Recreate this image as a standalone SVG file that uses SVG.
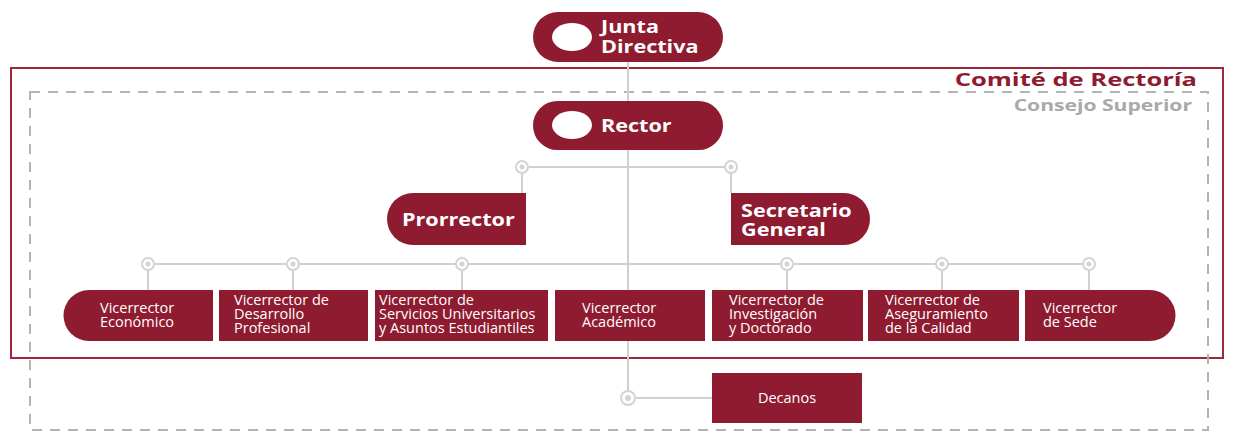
<svg xmlns="http://www.w3.org/2000/svg" width="1233" height="438" viewBox="0 0 1233 438">
<style>
.fill{fill:#8e1b2f}
.wl{fill:none;stroke:#d0d0d0;stroke-width:2}
.node{fill:#fff;stroke:#d3d3d3;stroke-width:2}
.dot{fill:#d3d3d3}
.hd{font-family:"Open Sans","Noto Sans",sans-serif;font-weight:bold;fill:#fff;font-size:18px}
.tx{font-family:"Open Sans","Noto Sans",sans-serif;fill:#fff;font-size:14.5px}
</style>
<rect width="1233" height="438" fill="#fff"/>
<g id="frames">
<rect x="11" y="68" width="1212" height="290" fill="none" stroke="#a0283c" stroke-width="2"/>
<rect x="30" y="92" width="1178" height="338" fill="none" stroke="#b4b4b4" stroke-width="2" stroke-dasharray="10,8"/>
<text transform="translate(1197 86) scale(1.38 1)" text-anchor="end" font-family="Open Sans,Noto Sans,sans-serif" font-weight="bold" font-size="18.5" fill="#8e1b2f">Comité de Rectoría</text>
<text transform="translate(1192 111) scale(1.28 1)" text-anchor="end" font-family="Open Sans,Noto Sans,sans-serif" font-weight="bold" font-size="16.5" fill="#a9a9a9">Consejo Superior</text>
</g>
<g id="connectors">
<path class="wl" d="M628 62V398H712"/>
<path class="wl" d="M522 167H731M522 167V193M731 167V193"/>
<path class="wl" d="M148 264H1089M148 264V290M293 264V290M462 264V290M787 264V290M942 264V290M1089 264V290"/>
<g>
<circle class="node" cx="522" cy="167" r="6"/><circle class="dot" cx="522" cy="167" r="2.5"/>
<circle class="node" cx="731" cy="167" r="6"/><circle class="dot" cx="731" cy="167" r="2.5"/>
<circle class="node" cx="148" cy="264" r="6"/><circle class="dot" cx="148" cy="264" r="2.5"/>
<circle class="node" cx="293" cy="264" r="6"/><circle class="dot" cx="293" cy="264" r="2.5"/>
<circle class="node" cx="462" cy="264" r="6"/><circle class="dot" cx="462" cy="264" r="2.5"/>
<circle class="node" cx="787" cy="264" r="6"/><circle class="dot" cx="787" cy="264" r="2.5"/>
<circle class="node" cx="942" cy="264" r="6"/><circle class="dot" cx="942" cy="264" r="2.5"/>
<circle class="node" cx="1089" cy="264" r="6"/><circle class="dot" cx="1089" cy="264" r="2.5"/>
<circle class="node" cx="628" cy="398" r="7"/><circle class="dot" cx="628" cy="398" r="3"/>
</g>
</g>
<g id="junta">
<rect class="fill" x="533" y="12" width="190" height="50" rx="25"/>
<ellipse cx="572" cy="37" rx="20" ry="14" fill="#fff"/>
<text class="hd" transform="translate(601 33) scale(1.2 1)">Junta</text>
<text class="hd" transform="translate(601 53) scale(1.2 1)">Directiva</text>
</g>
<g id="rector">
<rect class="fill" x="533" y="101" width="190" height="49" rx="24.5"/>
<ellipse cx="572" cy="125" rx="20" ry="14" fill="#fff"/>
<text class="hd" transform="translate(601 132) scale(1.2 1)">Rector</text>
</g>
<g id="prorrector">
<path class="fill" d="M526 193V245H413A26 26 0 0 1 413 193Z"/>
<text class="hd" transform="translate(402 226) scale(1.2 1)">Prorrector</text>
</g>
<g id="secretario">
<path class="fill" d="M731 193V245H844A26 26 0 0 0 844 193Z"/>
<text class="hd" transform="translate(741 217) scale(1.2 1)">Secretario</text>
<text class="hd" transform="translate(741 236) scale(1.2 1)">General</text>
</g>
<g id="v-economico">
<path class="fill" d="M213 290V341H89A25.5 25.5 0 0 1 89 290Z"/>
<text class="tx" x="100" y="313">Vicerrector</text>
<text class="tx" x="100" y="327">Económico</text>
</g>
<g id="v-desarrollo">
<rect class="fill" x="219" y="290" width="149" height="51"/>
<text class="tx" x="234" y="305">Vicerrector de</text>
<text class="tx" x="234" y="319">Desarrollo</text>
<text class="tx" x="234" y="333">Profesional</text>
</g>
<g id="v-servicios">
<rect class="fill" x="375" y="290" width="173" height="51"/>
<text class="tx" x="379" y="305">Vicerrector de</text>
<text class="tx" x="379" y="319">Servicios Universitarios</text>
<text class="tx" x="379" y="333">y Asuntos Estudiantiles</text>
</g>
<g id="v-academico">
<rect class="fill" x="555" y="290" width="150" height="51"/>
<text class="tx" x="582" y="313">Vicerrector</text>
<text class="tx" x="582" y="327">Académico</text>
</g>
<g id="v-investigacion">
<rect class="fill" x="712" y="290" width="151" height="51"/>
<text class="tx" x="729" y="305">Vicerrector de</text>
<text class="tx" x="729" y="319">Investigación</text>
<text class="tx" x="729" y="333">y Doctorado</text>
</g>
<g id="v-aseguramiento">
<rect class="fill" x="868" y="290" width="151" height="51"/>
<text class="tx" x="885" y="305">Vicerrector de</text>
<text class="tx" x="885" y="319">Aseguramiento</text>
<text class="tx" x="885" y="333">de la Calidad</text>
</g>
<g id="v-sede">
<path class="fill" d="M1025 290V341H1150A25.5 25.5 0 0 0 1150 290Z"/>
<text class="tx" x="1043" y="313">Vicerrector</text>
<text class="tx" x="1043" y="327">de Sede</text>
</g>
<g id="decanos">
<rect class="fill" x="712" y="373" width="150" height="50"/>
<text class="tx" x="787" y="403" text-anchor="middle" fill="#f3dede" font-size="15.5">Decanos</text>
</g>
</svg>
